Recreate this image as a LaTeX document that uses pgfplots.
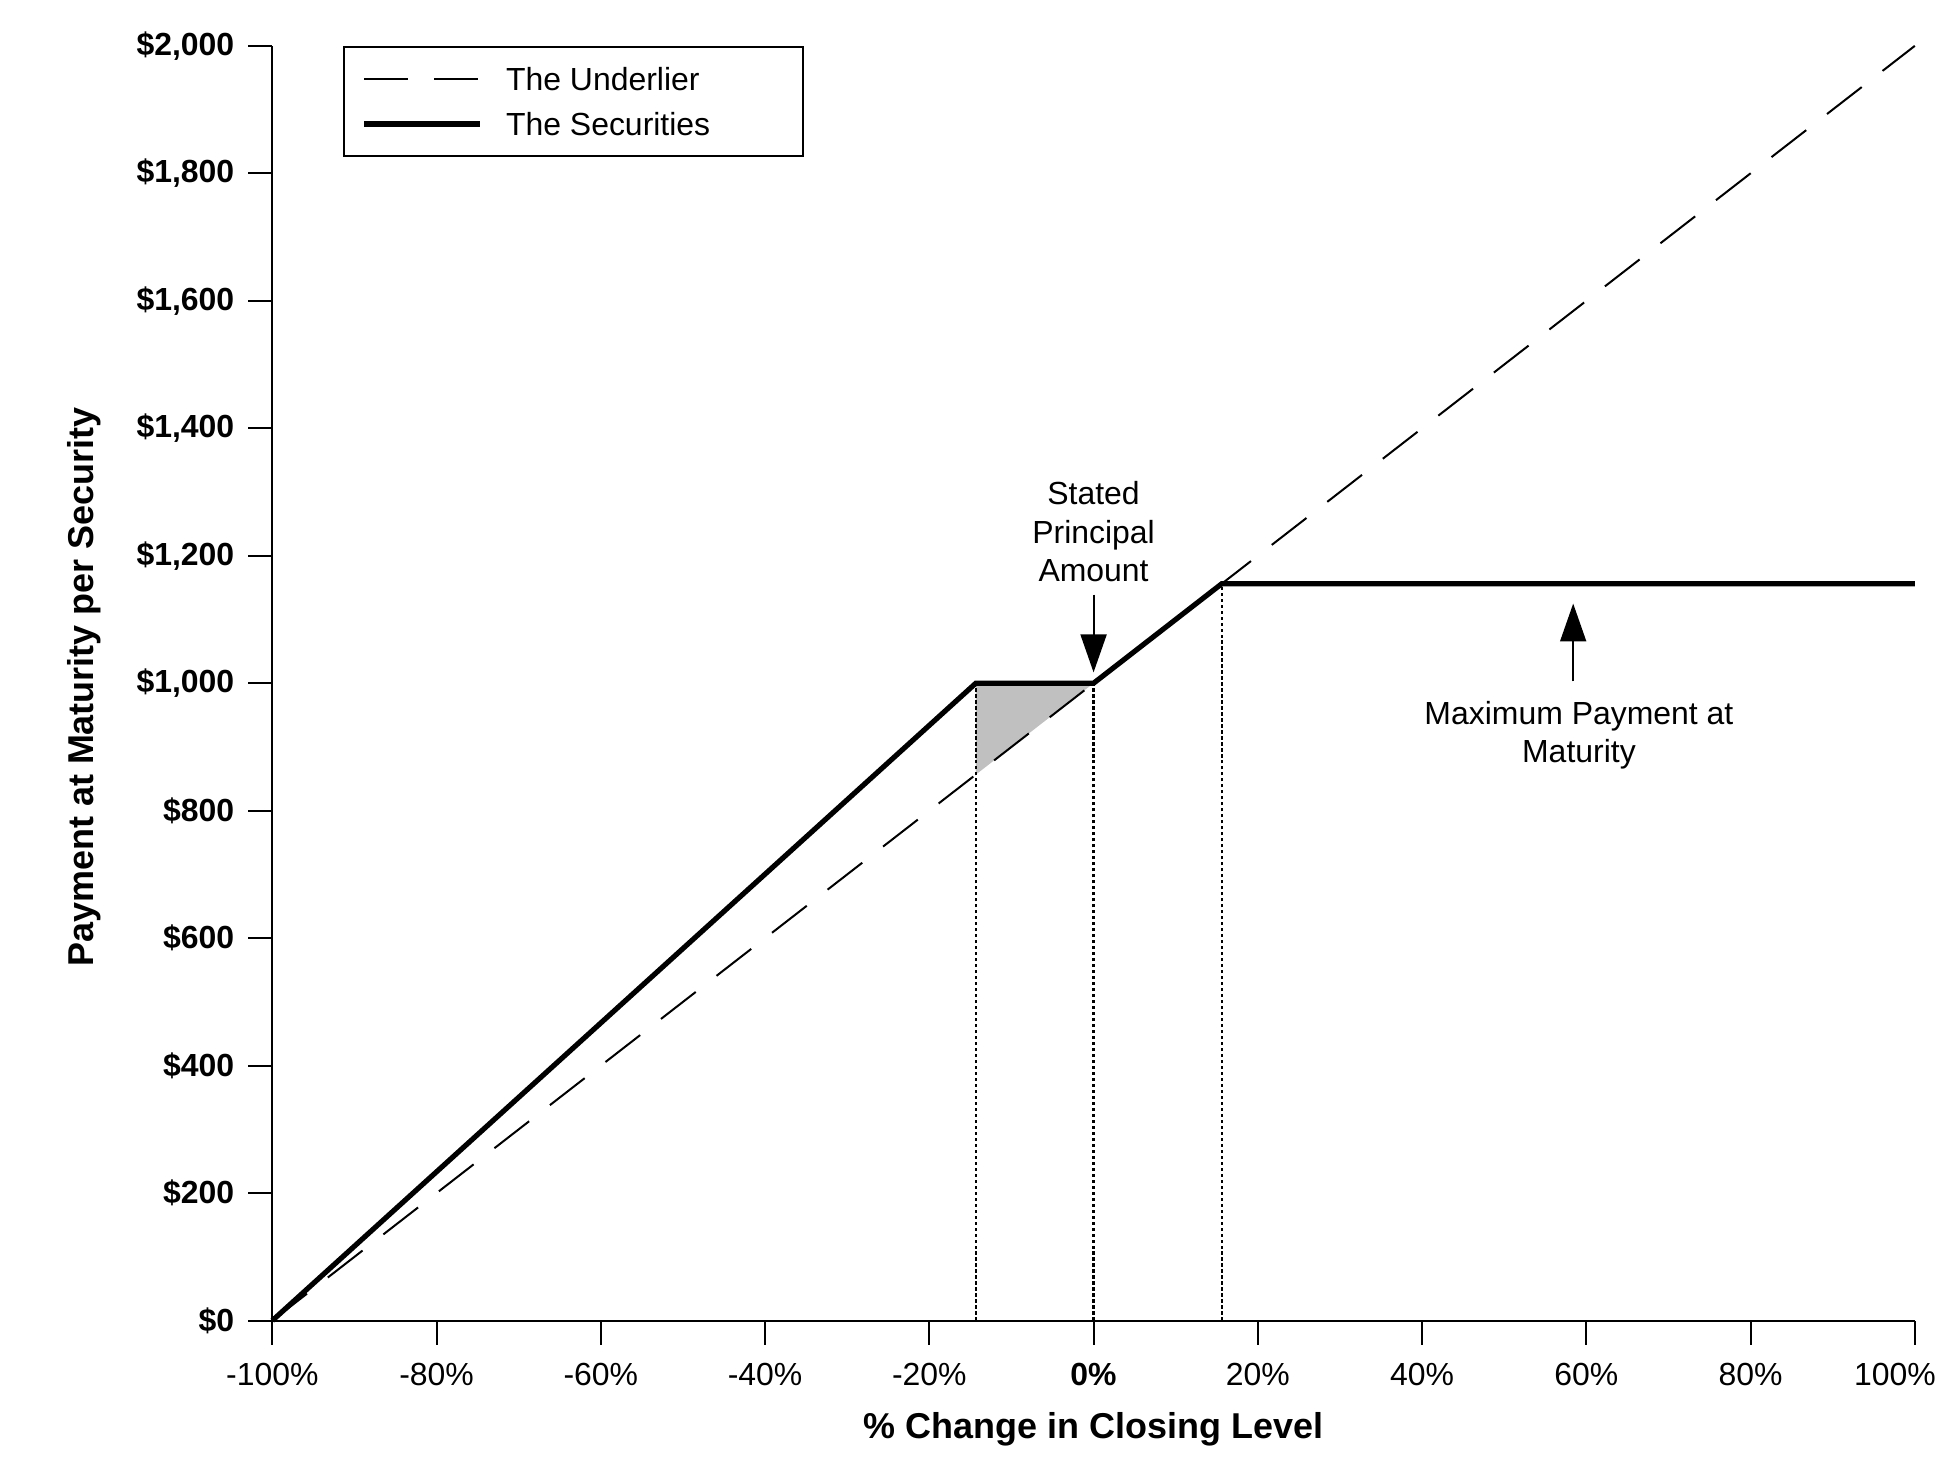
\documentclass[border=0pt]{standalone}
\usepackage{fontspec}
\setmainfont{Liberation Sans}
\usepackage{pgfplots}
\pgfplotsset{compat=1.18}
\usetikzlibrary{arrows.meta}
\definecolor{shade}{HTML}{C0C0C0}
\begin{document}
\begin{tikzpicture}
\begin{axis}[
  scale only axis, width=411.3pt, height=319.2pt,
  xmin=-100, xmax=100, ymin=0, ymax=2000,
  clip=false,
  axis lines=left,
  axis line style={-, line width=0.5pt, black},
  tick align=outside, major tick length=6pt,
  tick style={line width=0.5pt, black},
  xtick={-100,-80,-60,-40,-20,0,20,40,60,80,100},
  xticklabels={-100\%,-80\%,-60\%,-40\%,-20\%,\textbf{0\%},20\%,40\%,60\%,80\%,{\hspace*{-10pt}100\%}},
  ytick={0,200,400,600,800,1000,1200,1400,1600,1800,2000},
  yticklabels={\$0,\$200,\$400,\$600,\$800,{\$1,000},{\$1,200},{\$1,400},{\$1,600},{\$1,800},{\$2,000}},
  font=\fontsize{8}{9.6}\selectfont,
  xticklabel style={font=\fontsize{8}{9.6}\selectfont},
  xticklabel shift=1.1pt,
  yticklabel style={font=\bfseries\fontsize{8}{9.6}\selectfont},
  xlabel={\% Change in Closing Level},
  ylabel={Payment at Maturity per Security},
  label style={font=\bfseries\fontsize{9}{10.8}\selectfont},
  xlabel style={at={(axis description cs:0.5,-0.0855)}, anchor=center},
  ylabel style={at={(axis description cs:-0.1143,0.497)}, anchor=center},
  legend cell align=left,
  legend image code/.code={\draw[#1] (0pt,0pt) -- (29pt,0pt);},
  legend style={at={(rel axis cs:0.0431,1)}, anchor=north west, draw=black, line width=0.5pt,
    inner xsep=4.35pt, inner ysep=4.1pt, row sep=3.2pt,
    font=\fontsize{8}{9.6}\selectfont,
    nodes={inner sep=0pt, text height=6.9pt, text depth=1.1pt},
    /tikz/every odd column/.append style={column sep=5.9pt}},
]
% shaded buffer region
\addplot[fill=shade, draw=none, forget plot] coordinates {(-14.34,856.6) (-14.34,1000) (0,1000)} -- cycle;
% dotted verticals
\addplot[black, line width=0.55pt, dash pattern=on 0.8pt off 0.7pt, forget plot] coordinates {(-14.34,0) (-14.34,1000)};
\addplot[black, line width=0.55pt, dash pattern=on 0.8pt off 0.7pt, forget plot] coordinates {(0,0) (0,1000)};
\addplot[black, line width=0.55pt, dash pattern=on 0.8pt off 0.7pt, forget plot] coordinates {(15.6,0) (15.6,1156)};
% underlier
\addplot[black, line width=0.5pt, dash pattern=on 11pt off 6.6pt] coordinates {(-100,0) (100,2000)};
\addlegendentry{\makebox[70pt][l]{The Underlier}}
% securities
\addplot[black, line width=1.3pt, line join=miter] coordinates {(-100,0) (-14.34,1000) (0,1000) (15.6,1156) (100,1156)};
\addlegendentry{\makebox[70pt][l]{The Securities}}
% annotations
\node[align=center, font=\fontsize{8}{9.65}\selectfont, inner sep=0pt] at (axis cs:0,1237.6) {Stated\\Principal\\Amount};
\draw[-{Triangle[length=9.5pt,width=6.5pt]}, line width=0.5pt] (axis cs:0,1139) -- (axis cs:0,1017);
\draw[-{Triangle[length=9.5pt,width=6.5pt]}, line width=0.5pt] (axis cs:58.4,1003) -- (axis cs:58.4,1125);
\node[align=center, font=\fontsize{8}{9.4}\selectfont, inner sep=0pt] at (axis cs:59.1,918) {Maximum Payment at\\Maturity};
% bounding box
\path (rel axis cs:-0.1658,-0.1170) rectangle (rel axis cs:1.0190,1.0360);
\end{axis}
\end{tikzpicture}
\end{document}
